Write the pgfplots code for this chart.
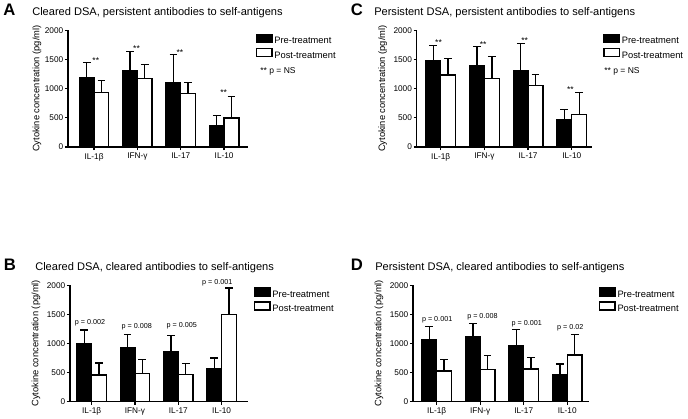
\documentclass[border=0pt]{standalone}
\usepackage{fontspec}
\setmainfont{Liberation Sans}
\usepackage{pgfplots}
\pgfplotsset{compat=1.18}
\pgfplotsset{
  panel/.style={
    scale only axis,
    axis lines=left,
    axis line style={-, line width=1pt},
    every tick/.style={black, line width=1pt},
    tick align=outside,
    major tick length=2.4pt,
    ybar,
    bar width=0.34,
    ymin=0, ymax=2000,
    ytick={0,500,1000,1500,2000},
    xtick={0,1,2,3},
    xticklabels={IL-1β,IFN-γ,IL-17,IL-10},
    /pgf/number format/assume math mode=true,
    /pgf/number format/1000 sep={},
    tick label style={font=\fontsize{6.2}{7}\selectfont},
    yticklabel style={inner sep=1pt},
    xticklabel style={inner sep=1pt, yshift=-1pt},
    ylabel={Cytokine concentration (pg/ml)},
    every axis y label/.style={at={(axis description cs:0,0.5)}, rotate=90, anchor=center, font=\fontsize{7}{8}\selectfont},
    clip=false,
    legend style={draw=none, fill=none, font=\fontsize{7}{8}\selectfont, inner sep=0pt, outer sep=0pt, row sep=0pt, anchor=north west,
      nodes={inner sep=1.35pt}},
    legend cell align=left,
    error bars/y dir=plus,
    error bars/y explicit,
    error bars/error bar style={line width=1pt, black},
    error bars/error mark options={rotate=90, line width=1pt, mark size=2.9pt, black},
  },
  pre/.style={fill=black, draw=black, line width=1pt, bar shift=-0.17,
    legend image code/.code={\draw[fill=black, draw=black, line width=1pt] (0pt,-0.6pt) rectangle (11.5pt,5.6pt);}},
  post/.style={fill=white, draw=black, line width=1pt, bar shift=0.17,
    legend image code/.code={\draw[fill=white, draw=black, line width=1pt] (0pt,-0.6pt) rectangle (11.5pt,5.6pt);}},
}
\newcommand\ttl{\fontsize{8.3}{10}\selectfont}
\newcommand\lett{\fontsize{12.5}{14}\selectfont\bfseries}
\newcommand\pfont{\fontsize{5.4}{6}\selectfont}
\newcommand\sfont{\fontsize{6.4}{7}\selectfont}
\begin{document}
\begin{tikzpicture}
\useasboundingbox (0,0) rectangle (516pt,313.5pt);
% Panel A
\begin{axis}[panel, at={(51pt,203.25pt)}, anchor=south west,
  width=135pt, height=87.5pt, xmin=-0.6, xmax=3.55,
  ylabel style={yshift=23.2pt},
  legend style={at={(1.044,0.972)}}]
\addplot[pre] coordinates {(0,1190) +- (0,260) (1,1315) +- (0,325) (2,1100) +- (0,480) (3,360) +- (0,180)};
\addplot[post] coordinates {(0,937) +- (0,206) (1,1177) +- (0,234) (2,914) +- (0,195) (3,497) +- (0,366)};
\legend{Pre-treatment,Post-treatment}
\node[font=\sfont] at (axis cs:0.04,1480) {**};
\node[font=\sfont] at (axis cs:0.98,1690) {**};
\node[font=\sfont] at (axis cs:1.98,1620) {**};
\node[font=\sfont] at (axis cs:2.99,935) {**};
\node[font=\sfont, anchor=west, inner sep=0pt] at (axis description cs:1.067,0.645) {** p = NS};
\end{axis}
\node[anchor=base west, inner sep=0pt, font=\lett] at (2.25pt,301.5pt) {A};
\node[anchor=base west, inner sep=0pt, font=\ttl] at (24pt,301.5pt) {Cleared DSA, persistent antibodies to self-antigens};
% Panel C
\begin{axis}[panel, at={(312.525pt,203.25pt)}, anchor=south west,
  width=131.7pt, height=87.5pt, xmin=-0.55, xmax=3.47,
  ylabel style={yshift=25.5pt},
  legend style={at={(1.063,0.972)}}]
\addplot[pre] coordinates {(0,1486) +- (0,257) (1,1400) +- (0,320) (2,1303) +- (0,474) (3,463) +- (0,183)};
\addplot[post] coordinates {(0,1234) +- (0,286) (1,1171) +- (0,378) (2,1051) +- (0,189) (3,560) +- (0,371)};
\legend{Pre-treatment,Post-treatment}
\node[font=\sfont] at (axis cs:-0.05,1787) {**};
\node[font=\sfont] at (axis cs:0.97,1759) {**};
\node[font=\sfont] at (axis cs:1.92,1816) {**};
\node[font=\sfont] at (axis cs:2.97,976) {**};
\node[font=\sfont, anchor=west, inner sep=0pt] at (axis description cs:1.067,0.645) {** p = NS};
\end{axis}
\node[anchor=base west, inner sep=0pt, font=\lett] at (262.875pt,301.5pt) {C};
\node[anchor=base west, inner sep=0pt, font=\ttl] at (280.5pt,301.5pt) {Persistent DSA, persistent antibodies to self-antigens};
% Panel B
\begin{axis}[panel, at={(52.5pt,12.525pt)}, anchor=south west,
  width=133.7pt, height=87pt, xmin=-0.5, xmax=3.615,
  ylabel style={yshift=25.5pt},
  legend style={at={(1.032,0.985)}}]
\addplot[pre] coordinates {(0,989) +- (0,241) (1,920) +- (0,229) (2,856) +- (0,282) (3,557) +- (0,190)};
\addplot[post] coordinates {(0,454) +- (0,207) (1,483) +- (0,241) (2,460) +- (0,189) (3,1500) +- (0,454)};
\legend{Pre-treatment,Post-treatment}
\node[font=\pfont] at (axis cs:-0.04,1362) {p = 0.002};
\node[font=\pfont] at (axis cs:1.04,1293) {p = 0.008};
\node[font=\pfont] at (axis cs:2.08,1299) {p = 0.005};
\node[font=\pfont] at (axis cs:2.9,2052) {p = 0.001};
\end{axis}
\node[anchor=base west, inner sep=0pt, font=\lett] at (2.625pt,110.475pt) {B};
\node[anchor=base west, inner sep=0pt, font=\ttl] at (26.25pt,110.475pt) {Cleared DSA, cleared antibodies to self-antigens};
% Panel D
\begin{axis}[panel, at={(309.75pt,12.525pt)}, anchor=south west,
  width=132pt, height=87pt, xmin=-0.545, xmax=3.5,
  ylabel style={yshift=25.5pt},
  legend style={at={(1.057,0.985)}}]
\addplot[pre] coordinates {(0,1057) +- (0,236) (1,1121) +- (0,224) (2,954) +- (0,282) (3,466) +- (0,178)};
\addplot[post] coordinates {(0,523) +- (0,201) (1,552) +- (0,241) (2,557) +- (0,196) (3,799) +- (0,350)};
\legend{Pre-treatment,Post-treatment}
\node[font=\pfont] at (axis cs:0.01,1402) {p = 0.001};
\node[font=\pfont] at (axis cs:1.05,1460) {p = 0.008};
\node[font=\pfont] at (axis cs:2.07,1333) {p = 0.001};
\node[font=\pfont] at (axis cs:3.07,1264) {p = 0.02};
\end{axis}
\node[anchor=base west, inner sep=0pt, font=\lett] at (262.875pt,111pt) {D};
\node[anchor=base west, inner sep=0pt, font=\ttl] at (281.25pt,111pt) {Persistent DSA, cleared antibodies to self-antigens};
\end{tikzpicture}
\end{document}
